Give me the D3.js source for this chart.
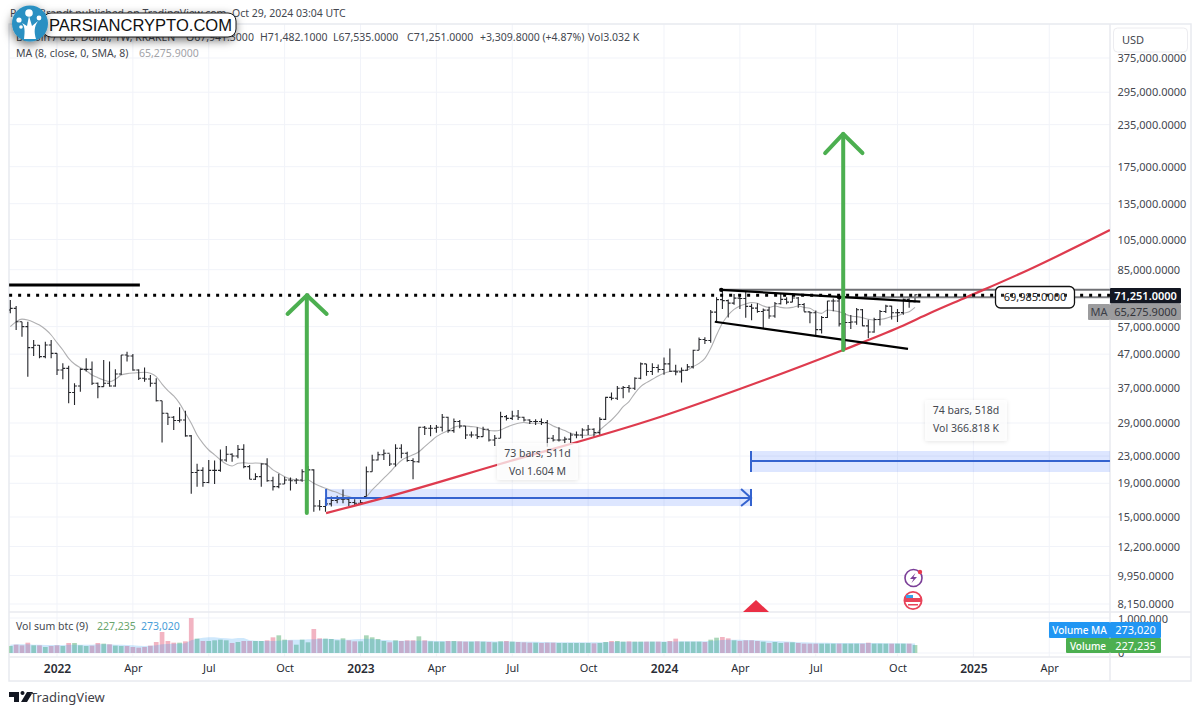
<!DOCTYPE html>
<html><head><meta charset="utf-8">
<script src="https://cdnjs.cloudflare.com/ajax/libs/d3/7.8.5/d3.min.js"></script>
<style>
html,body{margin:0;padding:0;background:#fff}
svg{display:block}
text{font-family:"Noto Sans",sans-serif;fill:#44474f}
</style></head><body>
<svg id="c" width="1200" height="714"></svg>
<script>
// bar index 0 = week of 2022-01-03; first bar = -8, last bar = 147
const firstBar = -8;
const opens = [64050,64800,59000,56990,49200,50000,46180,50100,
47270,42060,42550,35900,37600,42250,42250,38310,37420,38310,
37600,40900,46700,46400,42060,39700,39500,38310,33900,31040,
30200,29500,29620,26500,20500,20800,19100,20800,20800,22380,
23300,23000,24100,21360,19550,19910,21750,19350,18560,18900,
19450,19350,19450,20600,20870,16200,16140,16450,16850,17000,
17000,16600,16520,17310,20600,22380,23200,23450,21750,24300,
23450,22300,22100,28150,27950,27950,28150,30200,27500,29300,
28400,26650,26650,26350,27750,25750,26050,30320,29950,30450,
30200,29620,29300,29300,29100,26050,25750,25750,25900,26650,
26650,27620,27750,27100,29750,34700,34500,37000,37200,37000,
39700,43900,41600,42800,42200,43900,41700,41500,42000,43000,
48300,52100,51700,63100,68900,68400,67200,69600,69400,65700,
64900,63400,64000,61400,66900,69000,67700,69650,66600,63200,
62800,55800,60800,68200,68200,58100,58700,58900,64200,57300,54900,59900,63400,65800,62800,62900,69000,67941.3];
const highs = [68700,65900,59000,59000,51900,50100,51300,51900,
47270,44070,43300,38310,42550,45650,44600,38500,45120,44600,
42250,46700,47800,47050,42250,42800,40600,39700,33900,31040,
30450,32400,31600,26650,21800,21250,22380,22300,24100,24700,
23450,24850,25000,21600,20380,21860,22650,19910,20300,19910,
19800,19700,20950,21450,20950,16910,17100,17310,17400,18200,
17100,17000,16910,21360,23200,23700,24100,23300,25000,25000,
23700,22650,28270,28400,28600,28600,30900,30320,29950,29620,
28400,27300,28150,28270,27620,26650,31400,30700,31600,31770,
30320,29750,29750,29950,29620,26650,28150,26350,27100,27300,
27950,28600,27950,30200,34880,35900,37600,37600,37850,39950,
44300,43900,44070,43700,45900,48900,43600,42800,43850,48500,
52800,52900,64000,69990,73777,68900,71700,71300,72800,66900,
67200,64700,65500,67700,71900,70000,71900,70200,67300,63400,
63800,61400,68400,69400,70000,62700,61800,65000,64500,59800,60700,64100,66500,66000,64500,69400,69500,71482.1];
const lows = [62570,55670,53130,40140,46400,45650,45650,45650,
40600,39400,33290,32900,36100,41600,37850,34500,37420,37420,
37420,40600,44600,41850,39210,38750,37420,33700,25300,28600,
27620,29100,26350,17650,18560,18560,19000,18900,20600,22100,
22100,22650,21100,19550,19450,18560,19200,18050,18350,18900,
18050,18900,19200,19450,15550,15700,15550,16140,16520,16520,
16200,16200,16330,17310,20600,22300,22380,21450,21360,22650,
22100,19550,21950,26650,26450,27100,27300,27100,27100,27950,
25900,26200,25900,26350,25450,24700,26050,29500,29620,29620,
29300,28800,28600,28600,24570,25450,25450,25150,25150,26050,
26050,26650,26350,26650,29620,34000,34080,34500,35900,36560,
39400,40400,40600,41300,40700,41500,40500,38500,41800,42500,
48300,50500,50900,59000,64500,60800,66500,64500,60700,59600,
62800,56500,60200,60700,66600,66700,67600,65100,63400,58400,
53500,54300,60600,63500,57100,49000,56100,57800,57200,52500,54600,57500,62700,59900,58900,62000,65100,67535];
const closes = [64800,59000,56990,49200,50000,46180,50100,47270,
42060,42550,35900,37600,42250,42250,38310,37420,38310,37600,
40900,46700,46400,42060,39700,39500,38310,33900,31040,30200,
29500,29620,26500,20500,20800,19100,20800,20800,22380,23300,
23000,24100,21360,19550,19910,21750,19350,18560,18900,19450,
19350,19450,20600,20870,16200,16140,16450,16850,17000,17000,
16600,16520,16600,20600,22380,23200,23450,21750,24300,23450,
22300,22100,28150,27950,27950,28150,30200,27500,29300,28400,
26650,26650,26350,27750,25750,26050,30320,29950,30450,30200,
29620,29300,29300,29100,26050,25750,25750,25900,26650,26650,
27620,27750,27100,29750,34700,34500,37000,37200,37000,39700,
43900,41600,42800,42200,43900,41700,41500,42000,43000,48300,
52100,51700,63100,68900,68400,67200,69600,69400,65700,64900,
63400,64000,61400,66900,69000,67700,69650,66600,63200,62800,
55800,60800,68200,68200,58100,58700,58900,64200,57300,54900,59900,63400,65800,62800,62900,69000,67941.3,71251];
const maValues = [56990,59000,60100,59710,58800,57650,55950,53750,
50950,48390,45650,43850,42750,41850,40600,39850,39210,38750,
39400,40600,41000,41200,41300,41400,41090,40140,38100,36400,
35050,33290,31040,28940,26650,25150,24000,23200,22380,21750,
21450,21860,21950,21860,21900,21860,21600,20870,20380,19910,
19600,19450,19350,19450,19000,18650,18350,18050,17800,17500,
17310,17100,17060,17310,18140,18900,19700,20500,21450,22300,
22800,23200,23700,24570,25450,26350,26980,27500,28150,28400,
28400,28270,28150,27750,27500,27450,27620,28150,28600,28940,
29100,28940,28940,28940,28940,28400,27950,27500,26980,26700,
26600,26600,26700,27620,28600,29620,30900,32520,33700,35710,
37420,38500,39400,40330,41090,41600,41850,41850,42060,43050,
44070,45650,49000,53750,58340,61850,64350,65900,66850,67500,
67120,65900,65250,65900,65250,64950,65250,65900,65250,64800,
63300,62570,64050,63750,63300,62300,61400,61130,60700,60000,59710,60000,60400,61130,61400,62570,63300,65275.9];
// volumes, thousands of BTC
const volumes = [200,238,219,295,219,219,171,200,
219,200,286,286,219,200,210,286,267,248,
210,200,200,171,152,171,210,314,600,343,
295,295,333,1000,410,343,343,362,381,362,
286,314,343,343,343,343,362,448,505,381,
362,238,381,305,686,419,410,400,362,419,
362,333,333,505,448,400,343,305,362,343,
362,362,476,362,333,324,324,343,343,333,
324,324,333,324,314,305,333,343,324,314,
305,295,295,286,295,295,286,286,286,286,
286,286,276,286,314,343,343,324,333,324,
324,324,324,324,314,343,410,324,324,324,
324,314,381,438,457,419,362,343,362,362,
343,324,286,314,286,305,305,286,267,267,
267,267,267,267,267,267,267,267,267,295,
267,267,267,267,267,267,267,227.235];
const volumeMA = [238,248,248,248,238,238,229,229,
229,229,238,238,238,238,238,248,248,248,
238,238,229,219,210,200,210,219,248,257,
267,267,276,362,410,438,448,448,429,419,
410,429,429,362,352,343,343,343,352,362,
381,381,381,390,390,400,410,400,390,381,
381,390,400,410,400,381,371,362,352,350,
350,350,350,352,350,345,340,338,335,335,
335,335,335,333,333,330,330,330,330,325,
322,320,318,315,312,310,308,305,305,305,
305,305,305,305,310,315,320,322,325,325,
325,328,328,328,328,328,330,335,335,335,
335,335,345,360,375,380,380,380,375,370,
365,360,352,345,335,330,320,310,305,300,
295,292,290,288,286,285,285,285,285,285,
284,283,282,280,278,276,275,273.02];

const priceTicks = [375000,295000,235000,175000,135000,105000,85000,57000,47000,37000,29000,23000,19000,15000,12200,9950,8150];
const timeTicks = [0,13,26,39,52,65,78,91,104,117,130,144,157,170];
const timeLabels = ["2022","Apr","Jul","Oct","2023","Apr","Jul","Oct","2024","Apr","Jul","Oct","2025","Apr"];
const volumeTicks = [0,1000];

// drawings: [bar index, price]
const redLine = [[46.1,15420],[56.5,17250],[75.9,21750],[103.3,30250],[116.5,36550],[134.7,48400],[144.4,56850],[149.6,62700],[155.9,70150],[166.4,84800],[180.4,112200]];
const resistanceTop = [[-8.2,76300],[14.2,76300]];
const dottedLevel = [[-8.2,71000],[180.4,71000]];
const channelUpper = [[113.8,73777],[147.9,67900]];
const channelLower = [[112.7,59000],[145.8,48800]];
const grayTop = [[113.8,73777],[180.4,73777]];
const grayLevel = [[134,69985],[180.4,69985]];
const arrowOneShaft = [[42.8,15420],[42.8,71000]];
const arrowOneHead = [[39.5,62300],[42.8,71000],[46.2,62300]];
const arrowTwoShaft = [[134.7,48400],[134.7,220100]];
const arrowTwoHead = [[131.6,192600],[134.7,220100],[138,192600]];
const rangeOne = {x0:46.1,x1:118.9,top:18260,bottom:16200,mid:17150};
const rangeTwo = {x0:118.9,x1:180.4,top:23830,bottom:20570,mid:22200};
const chevron = [[117.2,18260],[118.9,17150],[117.2,16200]];

const svg = d3.select("#c");
const defs = svg.append("defs");
const blur = defs.append("filter").attr("id","sh").attr("x","-30%").attr("y","-60%").attr("width","160%").attr("height","240%");
blur.append("feDropShadow").attr("dx",-1).attr("dy",3).attr("stdDeviation",5).attr("flood-color","#000").attr("flood-opacity",.55);
const soft = defs.append("filter").attr("id","soft").attr("x","-20%").attr("y","-20%").attr("width","140%").attr("height","140%");
soft.append("feDropShadow").attr("dx",0).attr("dy",1).attr("stdDeviation",2).attr("flood-color","#000").attr("flood-opacity",.14);
defs.append("clipPath").attr("id","pane").append("rect").attr("x",9).attr("y",24).attr("width",1101).attr("height",588);
defs.append("clipPath").attr("id","vpane").append("rect").attr("x",9).attr("y",613).attr("width",1101).attr("height",44);

const x = d3.scaleLinear().domain([0,147]).range([57,915]);
const y = d3.scaleLog().domain([375000,8150]).range([58,604]);
const yv = d3.scaleLinear().domain([0,1000]).range([653,618]);
const bars = opens.map((o,i)=>({i:i+firstBar,o,h:highs[i],l:lows[i],c:closes[i],v:volumes[i],vm:volumeMA[i],ma:maValues[i]}));

const GRID="#f1f3f9", FRAME="#e8eaef";

// grid
const g = svg.append("g");
g.selectAll("line.v").data(timeTicks).join("line").attr("x1",d=>x(d)).attr("x2",d=>x(d)).attr("y1",24).attr("y2",657).attr("stroke",GRID);
g.selectAll("line.h").data(priceTicks).join("line").attr("x1",9).attr("x2",1110).attr("y1",d=>y(d)).attr("y2",d=>y(d)).attr("stroke",GRID);
g.selectAll("line.w").data(volumeTicks).join("line").attr("x1",9).attr("x2",1110).attr("y1",d=>yv(d)).attr("y2",d=>yv(d)).attr("stroke",GRID);

// frame and separators
const frame = svg.append("g").attr("fill","none").attr("stroke",FRAME).attr("stroke-width",1.5);
frame.append("rect").attr("x",9).attr("y",24).attr("width",1182).attr("height",657);
frame.append("line").attr("x1",1110).attr("x2",1110).attr("y1",24).attr("y2",681);
frame.append("line").attr("x1",9).attr("x2",1191).attr("y1",612).attr("y2",612);
frame.append("line").attr("x1",9).attr("x2",1191).attr("y1",657).attr("y2",657);

// volume pane
const vg = svg.append("g").attr("clip-path","url(#vpane)");
const bw = 4.7;
vg.selectAll("rect").data(bars).join("rect")
  .attr("x",d=>x(d.i)-bw/2).attr("width",bw)
  .attr("y",d=>yv(d.v)).attr("height",d=>yv(0)-yv(d.v))
  .attr("fill",d=>d.c>=d.o?"#a9d6b8":"#f2b4c2");
vg.append("path").datum(bars)
  .attr("d",d3.area().x(d=>x(d.i)).y0(yv(0)).y1(d=>yv(d.vm)))
  .attr("fill","#2196f3").attr("opacity",.22);

// price pane
const pg = svg.append("g").attr("clip-path","url(#pane)");
const lineP = d3.line().x(d=>x(d[0])).y(d=>y(d[1]));

// ranges (fill under the bars)
[rangeOne,rangeTwo].forEach(r=>{
  pg.append("rect").attr("x",x(r.x0)).attr("width",x(r.x1)-x(r.x0))
    .attr("y",y(r.top)).attr("height",y(r.bottom)-y(r.top)).attr("fill","#2962ff").attr("opacity",.16);
});

// MA line
pg.append("path").datum(bars).attr("fill","none").attr("stroke","#b0b0b2").attr("stroke-width",1.1)
  .attr("d",d3.line().curve(d3.curveMonotoneX).x(d=>x(d.i)).y(d=>y(d.ma)));

// OHLC bars
const ohlc = pg.append("g").attr("stroke","#24252a").attr("stroke-width",1.1);
ohlc.selectAll("path").data(bars).join("path").attr("fill","none")
  .attr("d",d=>{const c=x(d.i);return `M${c},${y(d.h)}V${y(d.l)}M${c-2.4},${y(d.o)}H${c}M${c},${y(d.c)}H${c+2.4}`;});

// range lines
[rangeOne,rangeTwo].forEach((r,k)=>{
  pg.append("path").attr("d",lineP([[r.x0,r.mid],[r.x1,r.mid]])).attr("stroke","#3463cf").attr("stroke-width",2).attr("fill","none");
  pg.append("path").attr("d",lineP([[r.x0,r.top],[r.x0,r.bottom]])).attr("stroke","#3463cf").attr("stroke-width",2).attr("fill","none");
  if(k===0) pg.append("path").attr("d",lineP([[r.x1,r.top],[r.x1,r.bottom]])).attr("stroke","#3463cf").attr("stroke-width",2).attr("fill","none");
});
pg.append("path").attr("d",lineP(chevron)).attr("stroke","#3463cf").attr("stroke-width",2).attr("fill","none");

// gray levels
pg.append("path").attr("d",lineP(grayTop)).attr("stroke","#6f7074").attr("stroke-width",2).attr("fill","none");
pg.append("path").attr("d",lineP(grayLevel)).attr("stroke","#7d7e82").attr("stroke-width",2).attr("fill","none");
// red trend
pg.append("path").attr("d",d3.line().curve(d3.curveMonotoneX).x(d=>x(d[0])).y(d=>y(d[1]))(redLine)).attr("stroke","#de3b4e").attr("stroke-width",2.2).attr("fill","none");
// black
pg.append("path").attr("d",lineP(resistanceTop)).attr("stroke","#000").attr("stroke-width",3).attr("fill","none");
pg.append("path").attr("d",lineP(dottedLevel)).attr("stroke","#000").attr("stroke-width",3).attr("stroke-dasharray","3 6").attr("fill","none");
pg.append("path").attr("d",lineP(channelUpper)).attr("stroke","#000").attr("stroke-width",2.2).attr("fill","none");
pg.append("path").attr("d",lineP(channelLower)).attr("stroke","#000").attr("stroke-width",2.2).attr("fill","none");
pg.selectAll("circle.pt").data([channelUpper[0],[134,69985]]).join("circle").attr("cx",d=>x(d[0])).attr("cy",d=>y(d[1])).attr("r",2.2).attr("fill","#000");
// green arrows
[arrowOneShaft,arrowOneHead,arrowTwoShaft,arrowTwoHead].forEach(a=>{
  pg.append("path").attr("d",lineP(a)).attr("stroke","#4caf50").attr("stroke-width",4).attr("fill","none").attr("stroke-linecap","round").attr("stroke-linejoin","round");
});

// measure tooltips
function tip(px,py,w,h,l1,l2){
  svg.append("rect").attr("x",px).attr("y",py).attr("width",w).attr("height",h).attr("rx",3).attr("fill","#fff").attr("fill-opacity",.72).attr("filter","url(#soft)");
  svg.append("text").attr("x",px+w/2).attr("y",py+14).attr("text-anchor","middle").attr("font-size",10.5).text(l1);
  svg.append("text").attr("x",px+w/2).attr("y",py+32).attr("text-anchor","middle").attr("font-size",10.5).text(l2);
}
tip(497,443,81,37,"73 bars, 511d","Vol 1.604 M");
tip(925,400,82,41,"74 bars, 518d","Vol 366.818 K");

// 69,985 label
svg.append("rect").attr("x",995.5).attr("y",286.5).attr("width",79).attr("height",21.5).attr("rx",5).attr("fill","#fff").attr("stroke","#111").attr("stroke-width",1.3);
svg.append("path").attr("d",`M1001,${y(71000)}H1069`).attr("stroke","#000").attr("stroke-width",3).attr("stroke-dasharray","3 6").attr("opacity",.85);
svg.append("text").attr("x",1035).attr("y",301).attr("text-anchor","middle").attr("font-size",11).attr("style","fill:#222").text("69,985.0000");

// red triangle and event icons
svg.append("path").attr("d","M743,612L756,600L769,612Z").attr("fill","#ea2f45");
svg.append("circle").attr("cx",913.5).attr("cy",578).attr("r",8.5).attr("fill","#fff").attr("stroke","#7b3f98").attr("stroke-width",1.6);
svg.append("path").attr("d","M915.5,573L910,579H913.5L911.5,583L917,577H913.5Z").attr("fill","#7b3f98");
svg.append("circle").attr("cx",920).attr("cy",572).attr("r",2.2).attr("fill","#e83c4f");
svg.append("circle").attr("cx",913).attr("cy",600.5).attr("r",8.6).attr("fill","#fff").attr("stroke","#e8445a").attr("stroke-width",1.8);
svg.append("path").attr("d","M905,598H921V602H905Z").attr("fill","#e8445a");
svg.append("path").attr("d","M906,595H913V598H906Z").attr("fill","#3aa0e6");
svg.append("path").attr("d","M908,604H918V605.5H908Z").attr("fill","#e8445a");

// axes
const pa = d3.axisRight(y).tickValues(priceTicks).tickSize(0).tickPadding(0).tickFormat(d3.format(",.4f"));
const pAxis = svg.append("g").attr("transform","translate(1117.5,0)").call(pa);
pAxis.select(".domain").remove();
pAxis.selectAll("text").attr("font-size",11).attr("font-family",'"Noto Sans",sans-serif');

const va = d3.axisRight(yv).tickValues(volumeTicks).tickSize(0).tickPadding(0).tickFormat(d=>d3.format(",")(d*1000));
const vAxis = svg.append("g").attr("transform","translate(1118,0)").call(va);
vAxis.select(".domain").remove();
vAxis.selectAll("text").attr("font-size",11).attr("font-family",'"Noto Sans",sans-serif');
vAxis.selectAll(".tick").filter(d=>d===1000).attr("transform",`translate(0,619)`);

const ta = d3.axisBottom(x).tickValues(timeTicks).tickSize(0).tickPadding(0).tickFormat((d,i)=>timeLabels[i]);
const tAxis = svg.append("g").attr("transform","translate(0,664)").call(ta);
tAxis.select(".domain").remove();
tAxis.selectAll("text").attr("font-family",'"Noto Sans",sans-serif').attr("font-size",d=>[0,52,104,157].includes(d)?12:11)
  .attr("font-weight",d=>[0,52,104,157].includes(d)?600:400).attr("style","fill:#2a2d35");

// USD box
svg.append("rect").attr("x",1113.5).attr("y",28).attr("width",74).attr("height",24).attr("rx",4).attr("fill","#fff").attr("stroke","#ececf0");
svg.append("text").attr("x",1122).attr("y",44).attr("font-size",11).text("USD");

// price labels
function plabel(px,py,w,h,fill,txt,tc,weight,size){
  svg.append("rect").attr("x",px).attr("y",py).attr("width",w).attr("height",h).attr("fill",fill).attr("rx",1);
  svg.append("text").attr("x",px+w/2).attr("y",py+h/2+4).attr("text-anchor","middle").attr("font-size",size||11).attr("font-weight",weight||400).attr("style",`fill:${tc}`).text(txt);
}
plabel(1110,288,71,15.5,"#131722",d3.format(",.4f")(closes[closes.length-1]),"#fff",600);
plabel(1088,304,22,16,"#9c9c9e","MA","#3b3e47");
plabel(1110,304,71,16,"#9c9c9e",d3.format(",.4f")(maValues[maValues.length-1]),"#33353b");
plabel(1049,622,61,16,"#2196f3","Volume MA","#fff",500,10);
plabel(1110,622,51,16,"#2196f3","273,020","#fff",400,11);
plabel(1066,638,44,15,"#4caf50","Volume","#fff",500,10);
plabel(1110,638,51,15,"#4caf50","227,235","#fff",400,11);

// header texts
const hdr = svg.append("g").attr("font-size",10.5);
hdr.append("text").attr("x",10).attr("y",17).text("Peter Brandt published on TradingView.com, Oct 29, 2024 03:04 UTC");
hdr.append("text").attr("x",16).attr("y",41).text("Bitcoin / U.S. Dollar, 1W, KRAKEN");
[[186,"O67,941.3000"],[260,"H71,482.1000"],[333,"L67,535.0000"],[407,"C71,251.0000"],[480,"+3,309.8000 (+4.87%)"],[588,"Vol3.032 K"]]
  .forEach(t=>hdr.append("text").attr("x",t[0]).attr("y",41).text(t[1]));
hdr.append("text").attr("x",16).attr("y",57).text("MA (8, close, 0, SMA, 8)");
hdr.append("text").attr("x",139).attr("y",57).attr("style","fill:#a2a3a8").text("65,275.9000");
const vh = svg.append("g").attr("font-size",10.5);
vh.append("text").attr("x",16).attr("y",630).text("Vol sum btc (9)");
vh.append("text").attr("x",97).attr("y",630).attr("style","fill:#6aa56d").text("227,235");
vh.append("text").attr("x",141).attr("y",630).attr("style","fill:#4a9ed8").text("273,020");

// watermark
svg.append("path").attr("d","M9,692H19V702H14V697H9ZM22.5,695a2,2 0 1,1 .01,0ZM27,692H33L27,702H21Z").attr("fill","#131722");
svg.append("text").attr("x",30).attr("y",702).attr("font-size",13).attr("style","fill:#3f4148").text("TradingView");

// site badge
svg.append("rect").attr("x",43).attr("y",13).attr("width",193).attr("height",24).attr("rx",8).attr("fill","#fff").attr("stroke","#1a1a1a").attr("stroke-width",1).attr("filter","url(#sh)");
svg.append("text").attr("x",49).attr("y",31).attr("font-size",17).attr("textLength",183).attr("lengthAdjust","spacingAndGlyphs").attr("font-weight",500).attr("style",'fill:#111;font-family:"Liberation Sans",sans-serif').text("PARSIANCRYPTO.COM");
svg.append("circle").attr("cx",30).attr("cy",23.5).attr("r",18).attr("fill","#2a90c2").attr("filter","url(#sh)");
svg.append("path").attr("d","M24,39C25,31 25,27 22,23L27,26L29,16L32,26L38,21C34,27 34,32 36,39Z").attr("fill","#fff");
[[29,13,3.8],[19,20,2.6],[39,18,2.4],[21,27,1.8]].forEach(c=>svg.append("circle").attr("cx",c[0]).attr("cy",c[1]).attr("r",c[2]).attr("fill","#fff"));
</script>
</body></html>
